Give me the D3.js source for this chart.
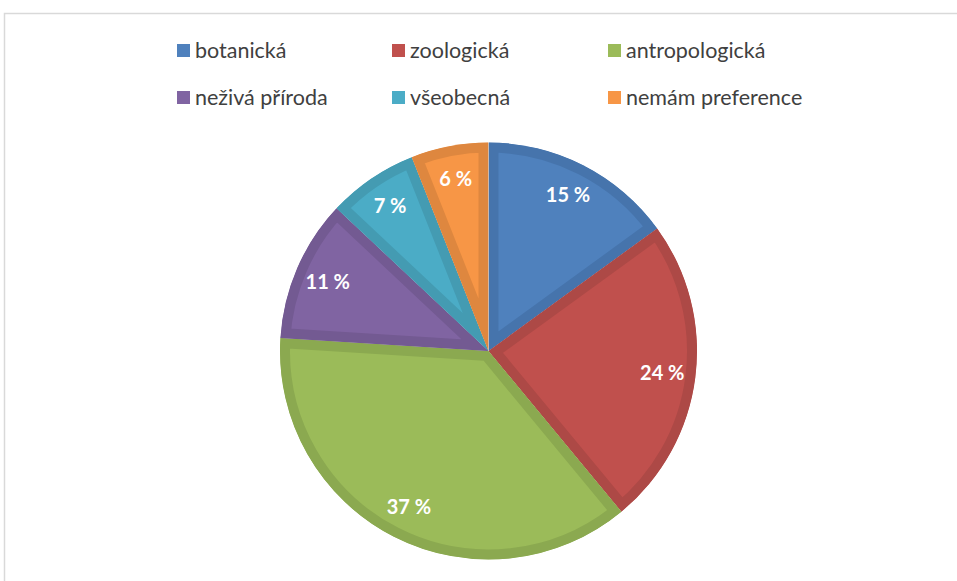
<!DOCTYPE html>
<html><head><meta charset="utf-8">
<script src="https://cdn.jsdelivr.net/npm/d3@7"></script>
<style>body{margin:0;background:#fff}svg{display:block}</style>
</head><body>
<svg id="c" width="957" height="581"></svg>
<script>
const categories = ["botanická","zoologická","antropologická","neživá příroda","všeobecná","nemám preference"];
const values = [15,24,37,11,7,6];
const colors = ["#4F81BD","#C0504D","#9BBB59","#8064A2","#4BACC6","#F79646"];
const darkColors = ["#4674AC","#AD4946","#8BA950","#735A92","#449BB2","#DE873F"];

const svg = d3.select("#c");
svg.append("rect").attr("x",4.5).attr("y",13.5).attr("width",1000).attr("height",700)
  .attr("fill","#fff").attr("stroke","#d9d9d9").attr("stroke-width",1.5);

const cx = 488.5, cy = 351, r = 208.5;
const pie = d3.pie().sort(null).value(d=>d)(values);
const arc = d3.arc().innerRadius(0).outerRadius(r);
const g = svg.append("g").attr("transform",`translate(${cx},${cy})`);
const defs = svg.append("defs");
pie.forEach((p,i)=>{
  defs.append("clipPath").attr("id","cp"+i).append("path").attr("d",arc(p));
});
g.selectAll("path.slice").data(pie).join("path").attr("class","slice")
  .attr("d",arc).attr("fill",(d,i)=>colors[i])
  .attr("stroke",(d,i)=>darkColors[i]).attr("stroke-width",20)
  .attr("stroke-linejoin","miter")
  .attr("clip-path",(d,i)=>`url(#cp${i})`);

const labelArc = d3.arc().innerRadius(r*0.84).outerRadius(r*0.84);
g.selectAll("text.lbl").data(pie).join("text").attr("class","lbl")
  .attr("transform",d=>`translate(${labelArc.centroid(d)})`)
  .attr("text-anchor","middle").attr("dy","0.36em")
  .attr("fill","#fff").attr("font-family","Lato, sans-serif").attr("font-weight","bold")
  .attr("font-size",20).text((d,i)=>values[i]+" %");

const legX = [177,392,608], legY = [50,97];
const lg = svg.append("g");
categories.forEach((c,i)=>{
  const x = legX[i%3], y = legY[Math.floor(i/3)];
  lg.append("rect").attr("x",x).attr("y",y-6).attr("width",13).attr("height",13).attr("fill",colors[i]);
  lg.append("text").attr("x",x+18).attr("y",y).attr("dy","0.35em")
    .attr("font-family","Lato, sans-serif").attr("font-size",21.5).attr("fill","#404040").text(c);
});
</script>
</body></html>
